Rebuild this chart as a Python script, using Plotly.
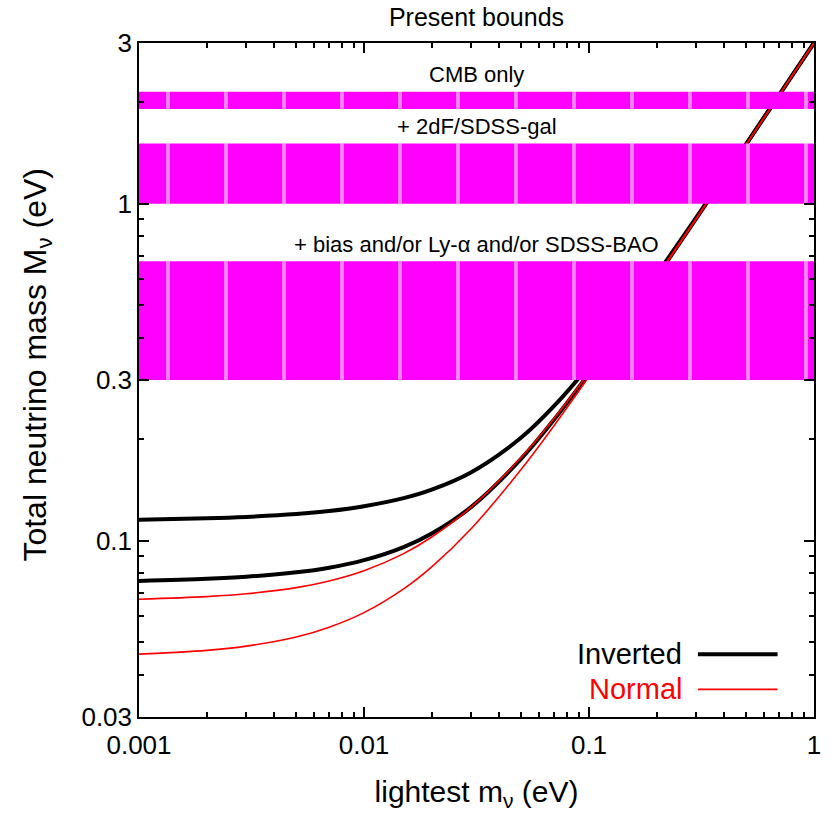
import math
import plotly.graph_objects as go

# lightest neutrino mass (eV)
m_light = [0.001, 0.002, 0.003, 0.005, 0.007, 0.01, 0.015, 0.02, 0.03, 0.05,
           0.07, 0.1, 0.15, 0.2, 0.3, 0.5, 0.7, 1.0]

# total neutrino mass (eV)
inv_upper = [0.1155, 0.1166, 0.1177, 0.1200, 0.1225, 0.1266, 0.1338, 0.1418,
             0.1598, 0.2025, 0.2513, 0.3308, 0.4713, 0.6163, 0.9110, 1.5067,
             2.1048, 3.0034]
inv_lower = [0.0760, 0.0771, 0.0782, 0.0806, 0.0832, 0.0876, 0.0958, 0.1051,
             0.1261, 0.1752, 0.2290, 0.3138, 0.4594, 0.6071, 0.9048, 1.5029,
             2.1021, 3.0014]
norm_upper = [0.0671, 0.0683, 0.0696, 0.0726, 0.0760, 0.0815, 0.0916, 0.1026,
              0.1260, 0.1769, 0.2311, 0.3157, 0.4609, 0.6083, 0.9056, 1.5034,
              2.1024, 3.0017]
norm_lower = [0.0461, 0.0473, 0.0487, 0.0518, 0.0554, 0.0612, 0.0720, 0.0837,
              0.1088, 0.1630, 0.2198, 0.3071, 0.4548, 0.6036, 0.9024, 1.5015,
              2.1011, 3.0007]

# present bounds on the total mass (eV): lower edge, upper edge, label
band_low = [1.91, 1.0, 0.30]
band_high = [2.15, 1.51, 0.675]
band_labels = ["CMB only", "+ 2dF/SDSS-gal", "+ bias and/or Ly-\u03b1 and/or SDSS-BAO"]

x_range = [0.001, 1.0]
y_range = [0.03, 3.0]
x_tick_vals = [0.001, 0.01, 0.1, 1]
x_tick_text = ["0.001", "0.01", "0.1", "1"]
y_tick_vals = [0.03, 0.1, 0.3, 1, 3]
y_tick_text = ["0.03", "0.1", "0.3", "1", "3"]

FONT = "Arial, Liberation Sans, sans-serif"
MAGENTA = "#ff00ff"

fig = go.Figure()

# Inverted (thick black) drawn first, Normal (thin red) on top
for ys in (inv_upper, inv_lower):
    fig.add_trace(go.Scatter(x=m_light, y=ys, mode="lines", line=dict(color="black", width=4, shape="spline"),
                             showlegend=False, hoverinfo="skip"))
for ys in (norm_upper, norm_lower):
    fig.add_trace(go.Scatter(x=m_light, y=ys, mode="lines", line=dict(color="#ff0000", width=1.6, shape="spline"),
                             showlegend=False, hoverinfo="skip"))

# magenta bound bands, drawn above the curves
for lo, hi in zip(band_low, band_high):
    fig.add_trace(go.Scatter(
        x=[x_range[0], x_range[1], x_range[1], x_range[0], x_range[0]],
        y=[lo, lo, hi, hi, lo],
        mode="lines", line=dict(width=0), fill="toself", fillcolor=MAGENTA,
        fillpattern=dict(shape="|", fgcolor="white", bgcolor=MAGENTA, size=58, solidity=0.07),
        showlegend=False, hoverinfo="skip"))

# band labels just above each band (annotation y on a log axis is log10)
annotations = []
for hi, lab in zip(band_high, band_labels):
    annotations.append(dict(x=0.5, xref="paper", y=math.log10(hi), yref="y", yshift=17,
                            text=lab, showarrow=False, yanchor="middle",
                            font=dict(family=FONT, size=22, color="black")))

# legend in gnuplot style (text, then line sample)
legend_items = [("Inverted", "black", 4, 0.093), ("Normal", "#ff0000", 1.6, 0.041)]
shapes = []
for name, col, w, yp in legend_items:
    annotations.append(dict(x=0.808, xref="paper", y=yp, yref="paper", text=name, showarrow=False,
                            xanchor="right", yanchor="middle",
                            font=dict(family=FONT, size=29, color=col)))
    shapes.append(dict(type="line", xref="paper", yref="paper", x0=0.828, x1=0.946, y0=yp, y1=yp,
                       line=dict(color=col, width=w)))

# y axis title placed as a rotated annotation
annotations.append(dict(x=-0.151, xref="paper", y=0.523, yref="paper", textangle=-90,
                        text="Total neutrino mass M<sub>\u03bd</sub> (eV)", showarrow=False,
                        xanchor="center", yanchor="middle",
                        font=dict(family=FONT, size=32, color="black")))

x_minor = [k * 10 ** e for e in (-3, -2, -1) for k in range(2, 10)]
y_minor = [k * 10 ** e for e in (-2, -1, 0) for k in range(1, 10) if 0.03 < k * 10 ** e < 3]

axis_common = dict(showgrid=False, zeroline=False, showline=True, linecolor="black", linewidth=1.5,
                   mirror="ticks", ticks="inside", ticklen=10, tickwidth=1.5, tickcolor="black",
                   tickfont=dict(family=FONT, size=26, color="black"))

fig.update_layout(
    width=833, height=815,
    margin=dict(l=139, r=13, t=43, b=97),
    paper_bgcolor="white", plot_bgcolor="white",
    title=dict(text="Present bounds", x=0.5, xref="paper", xanchor="center", y=0.979, yanchor="middle",
               font=dict(family=FONT, size=25, color="black")),
    xaxis=dict(type="log", range=[-3, 0], tickvals=x_tick_vals, ticktext=x_tick_text,
               ticklabelstandoff=4,
               title=dict(text="lightest m<sub>\u03bd</sub> (eV)", font=dict(family=FONT, size=30, color="black"),
                          standoff=22),
               minor=dict(tickvals=x_minor, ticks="inside", ticklen=5, tickwidth=1.5, tickcolor="black"),
               **axis_common),
    yaxis=dict(type="log", range=[-1.5229, 0.4771], tickvals=y_tick_vals, ticktext=y_tick_text,
               minor=dict(tickvals=y_minor, ticks="inside", ticklen=5, tickwidth=1.5, tickcolor="black"),
               **axis_common),
    annotations=annotations,
    shapes=shapes,
)

fig.write_html("out.html")
